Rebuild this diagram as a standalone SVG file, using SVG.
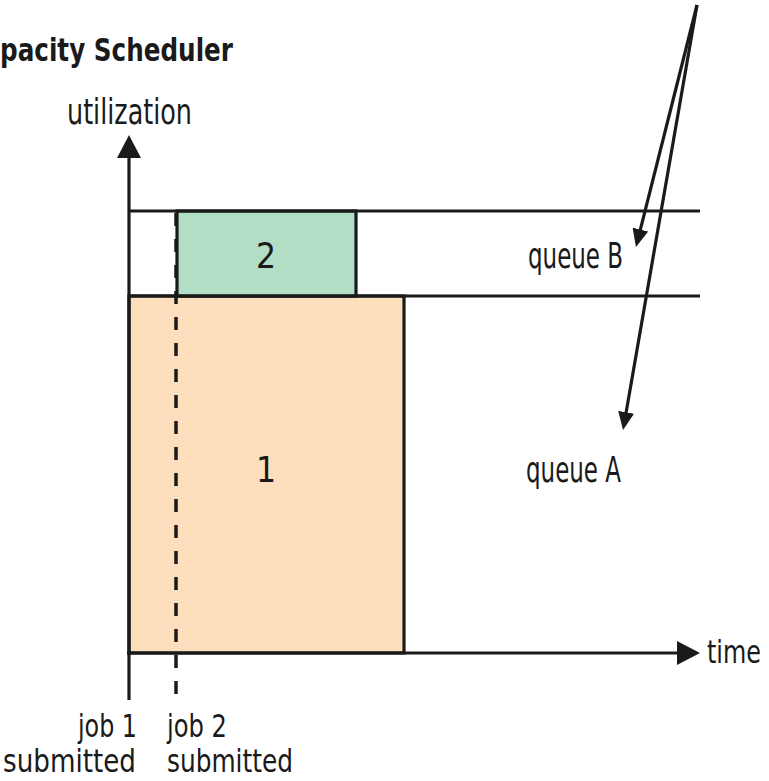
<svg xmlns="http://www.w3.org/2000/svg" width="769" height="781" viewBox="0 0 769 781">
  <style>
    .lbl { font-family: 'Liberation Sans Narrow', 'DejaVu Sans Condensed', 'Liberation Sans', sans-serif; font-size: 35px; fill: #1a1a1a; }
    .small { font-size: 32px; }
    .title { font-family: 'Liberation Sans Narrow', 'DejaVu Sans Condensed', 'Liberation Sans', sans-serif; font-size: 32px; font-weight: bold; fill: #1a1a1a; }
    .edge { fill: none; stroke: #1a1a1a; stroke-width: 3.2; }
    .bar { stroke: #1a1a1a; stroke-width: 3.2; }
    .dash { fill: none; stroke: #1a1a1a; stroke-width: 3.5; stroke-dasharray: 13 13; }
  </style>
  <defs>
    <marker id="axisHead" markerUnits="userSpaceOnUse" markerWidth="24" markerHeight="24" refX="8" refY="12" orient="auto">
      <path d="M0,0 L23,12 L0,24 Z" fill="#1a1a1a"/>
    </marker>
    <marker id="callHead" markerUnits="userSpaceOnUse" markerWidth="18" markerHeight="16" refX="6" refY="8" orient="auto">
      <path d="M0,0 L18,8 L0,16 Z" fill="#1a1a1a"/>
    </marker>
  </defs>

  <rect width="769" height="781" fill="#ffffff"/>

  <text class="title" x="0" y="61" textLength="233" lengthAdjust="spacingAndGlyphs">pacity Scheduler</text>

  <!-- job bars -->
  <g id="job1">
    <rect class="bar" x="129" y="296" width="275" height="357" fill="#fddfbe"/>
    <text class="lbl" x="266" y="482" text-anchor="middle">1</text>
  </g>
  <g id="job2">
    <rect class="bar" x="177" y="211" width="179" height="85" fill="#b3dec6"/>
    <text class="lbl" x="266" y="268" text-anchor="middle">2</text>
  </g>

  <!-- queue boundaries and labels -->
  <g id="queueB">
    <line class="edge" x1="129" y1="211" x2="700" y2="211"/>
    <text class="lbl" x="528" y="268" textLength="95" lengthAdjust="spacingAndGlyphs">queue B</text>
  </g>
  <g id="queueA">
    <line class="edge" x1="129" y1="296" x2="700" y2="296"/>
    <text class="lbl" x="526" y="482" textLength="95" lengthAdjust="spacingAndGlyphs">queue A</text>
  </g>

  <!-- axes -->
  <g id="axes">
    <line class="edge" x1="129" y1="700" x2="129" y2="150" marker-end="url(#axisHead)"/>
    <line class="edge" x1="127" y1="653" x2="685" y2="653" marker-end="url(#axisHead)"/>
    <text class="lbl" x="67" y="124" textLength="125" lengthAdjust="spacingAndGlyphs">utilization</text>
    <text class="lbl small" x="707" y="663" textLength="54" lengthAdjust="spacingAndGlyphs">time</text>
  </g>

  <!-- submission markers -->
  <g id="submit1">
    <text class="lbl small" x="78" y="737" textLength="59" lengthAdjust="spacingAndGlyphs">job 1</text>
    <text class="lbl small" x="3" y="772" textLength="133" lengthAdjust="spacingAndGlyphs">submitted</text>
  </g>
  <g id="submit2">
    <line class="dash" x1="176" y1="213" x2="176" y2="700"/>
    <text class="lbl small" x="167" y="737" textLength="60" lengthAdjust="spacingAndGlyphs">job 2</text>
    <text class="lbl small" x="167" y="772" textLength="126" lengthAdjust="spacingAndGlyphs">submitted</text>
  </g>

  <!-- callout connectors -->
  <g id="connectors">
    <line class="edge" x1="697" y1="5" x2="638.9" y2="235.4" marker-end="url(#callHead)"/>
    <line class="edge" x1="697" y1="5" x2="625.1" y2="418.2" marker-end="url(#callHead)"/>
  </g>
</svg>
